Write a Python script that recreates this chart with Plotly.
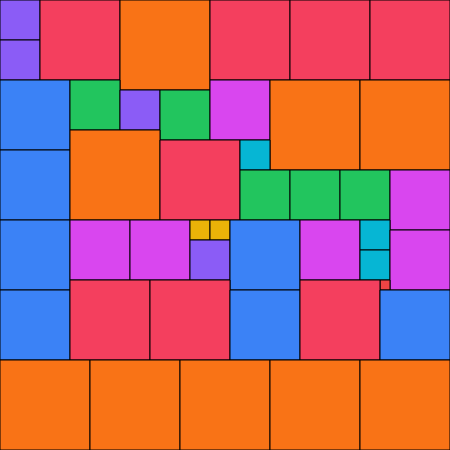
import plotly.graph_objects as go

# Square packing: left column, top row, side length (grid units of 10)
left = [0, 0, 4, 12, 21, 29, 37,
        0, 7, 12, 16, 21, 27, 36,
        0, 7, 16, 24, 24, 29, 34, 39,
        0, 7, 13, 19, 21, 19, 23, 30, 36, 36, 39, 38,
        0, 7, 15, 23, 30, 38,
        0, 9, 18, 27, 36]
top = [0, 4, 0, 0, 0, 0, 0,
       8, 8, 9, 9, 8, 8, 8,
       15, 13, 14, 14, 17, 17, 17, 17,
       22, 22, 22, 22, 22, 24, 22, 22, 22, 25, 23, 28,
       29, 28, 28, 29, 28, 29,
       36, 36, 36, 36, 36]
side = [4, 4, 8, 9, 8, 8, 8,
        7, 5, 4, 5, 6, 9, 9,
        7, 9, 8, 3, 5, 5, 5, 6,
        7, 6, 6, 2, 2, 4, 7, 6, 3, 3, 6, 1,
        7, 8, 8, 7, 8, 7,
        9, 9, 9, 9, 9]

palette = {1: "#ef4444", 2: "#eab308", 3: "#06b6d4", 4: "#8b5cf6", 5: "#22c55e",
           6: "#d946ef", 7: "#3b82f6", 8: "#f43f5e", 9: "#f97316"}

fig = go.Figure(go.Bar(
    x=[l + s / 2 for l, s in zip(left, side)],
    y=side,
    base=top,
    width=side,
    marker=dict(color=[palette[s] for s in side], line=dict(color="#000000", width=1)),
    hoverinfo="skip",
))
fig.update_layout(
    width=450, height=450,
    margin=dict(l=0, r=0, t=0, b=0),
    showlegend=False,
    paper_bgcolor="white", plot_bgcolor="white",
    xaxis=dict(range=[0, 45], visible=False, fixedrange=True),
    yaxis=dict(range=[45, 0], visible=False, fixedrange=True),
    barmode="overlay",
)
fig.write_html("out.html", config={"displayModeBar": False},
               post_script="document.body.style.margin='0';document.body.style.overflow='hidden';")
